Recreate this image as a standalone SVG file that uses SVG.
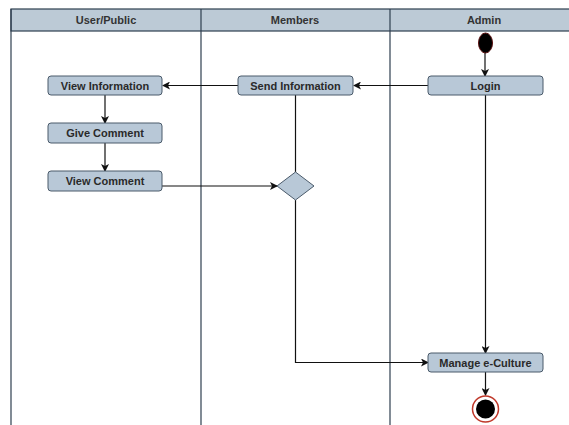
<svg xmlns="http://www.w3.org/2000/svg" width="569" height="425" viewBox="0 0 569 425">
<defs>
<style>
.lane{fill:none;stroke:#2e3f4f;stroke-width:1.2}
.hdr{fill:#bccad6;stroke:#2e3f4f;stroke-width:1.2}
.ht{font-family:"Liberation Sans",Arial,sans-serif;font-size:11px;font-weight:bold;fill:#333;text-anchor:middle}
.node{fill:#b8c8d7;stroke:#4b5b6b;stroke-width:1}
.nt{font-family:"Liberation Sans",Arial,sans-serif;font-size:11px;font-weight:bold;fill:#2a2a2a;text-anchor:middle}
.c{fill:none;stroke:#111;stroke-width:1.2}
</style>
<marker id="ar" markerWidth="8" markerHeight="8" refX="7" refY="4" orient="auto" markerUnits="userSpaceOnUse">
<path d="M0,0 L8,4 L0,8 L2,4 Z" fill="#111"/>
</marker>
</defs>
<rect width="569" height="425" fill="#fff"/>
<g id="lanes">
<rect class="hdr" x="11" y="9" width="570" height="22"/>
<line class="lane" x1="11" y1="9" x2="11" y2="425"/>
<line class="lane" x1="201" y1="9" x2="201" y2="425"/>
<line class="lane" x1="390" y1="9" x2="390" y2="425"/>
<text class="ht" x="106" y="24">User/Public</text>
<text class="ht" x="295" y="24">Members</text>
<text class="ht" x="484" y="24">Admin</text>
</g>
<g id="connectors">
<line class="c" x1="485" y1="52" x2="485" y2="76" marker-end="url(#ar)"/>
<line class="c" x1="428" y1="85.5" x2="354" y2="85.5" marker-end="url(#ar)"/>
<line class="c" x1="238" y1="85.5" x2="163" y2="85.5" marker-end="url(#ar)"/>
<line class="c" x1="105" y1="95" x2="105" y2="123" marker-end="url(#ar)"/>
<line class="c" x1="105" y1="143" x2="105" y2="171" marker-end="url(#ar)"/>
<line class="c" x1="162" y1="186" x2="277" y2="186" marker-end="url(#ar)"/>
<line class="c" x1="295.5" y1="95" x2="295.5" y2="172"/>
<polyline class="c" points="295.5,200 295.5,362.5 428,362.5" marker-end="url(#ar)"/>
<line class="c" x1="485.5" y1="95" x2="485.5" y2="353" marker-end="url(#ar)"/>
<line class="c" x1="485.5" y1="372" x2="485.5" y2="395" marker-end="url(#ar)"/>
</g>
<g id="start">
<ellipse cx="485.5" cy="43" rx="7" ry="10" fill="#000" stroke="#5a1010" stroke-width="1"/>
</g>
<g id="login">
<rect class="node" x="428" y="76" width="115" height="19" rx="3"/>
<text class="nt" x="485.5" y="89.5">Login</text>
</g>
<g id="send-information">
<rect class="node" x="238" y="76" width="115" height="19" rx="3"/>
<text class="nt" x="295.5" y="89.5">Send Information</text>
</g>
<g id="view-information">
<rect class="node" x="48" y="76" width="114" height="19" rx="3"/>
<text class="nt" x="105" y="89.5">View Information</text>
</g>
<g id="give-comment">
<rect class="node" x="48" y="123" width="114" height="20" rx="3"/>
<text class="nt" x="105" y="137">Give Comment</text>
</g>
<g id="view-comment">
<rect class="node" x="48" y="171" width="114" height="20" rx="3"/>
<text class="nt" x="105" y="185">View Comment</text>
</g>
<g id="decision">
<polygon class="node" points="295.5,172 314,186 295.5,200 277,186"/>
</g>
<g id="manage-e-culture">
<rect class="node" x="428" y="353" width="115" height="19" rx="3"/>
<text class="nt" x="485.5" y="366.5">Manage e-Culture</text>
</g>
<g id="end">
<circle cx="485.5" cy="409" r="13" fill="#fff" stroke="#c0392b" stroke-width="1.5"/>
<circle cx="485.5" cy="409" r="9.5" fill="#000"/>
</g>
</svg>
